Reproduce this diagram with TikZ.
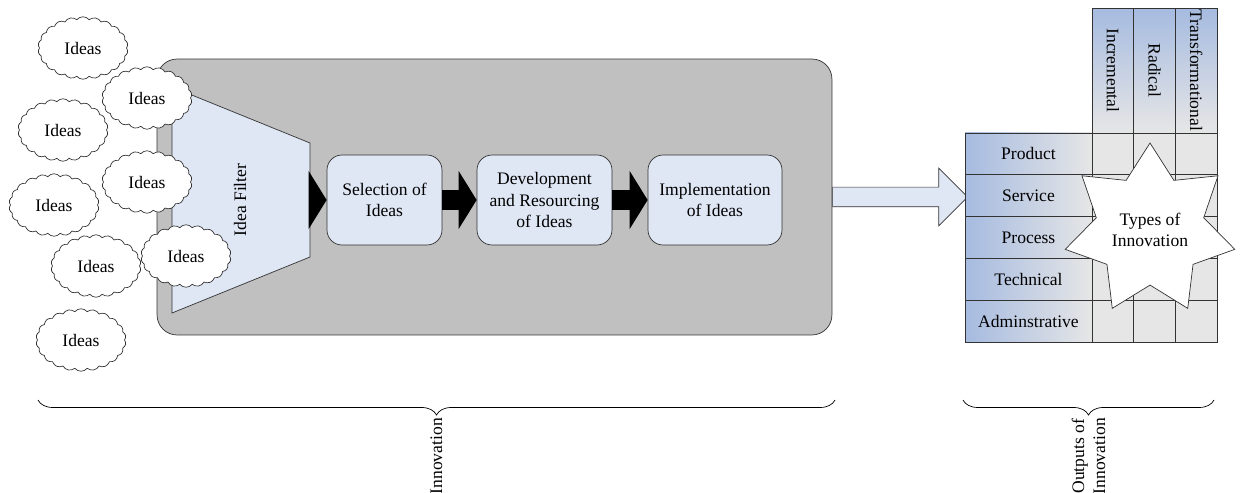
\documentclass[tikz,border=0pt]{standalone}
\usepackage{fontspec}
\setmainfont{Liberation Serif}
\usetikzlibrary{shapes.geometric,shapes.symbols,shapes.arrows,arrows.meta,decorations.pathreplacing}
\definecolor{boxgray}{HTML}{C0C0C0}
\definecolor{paleblue}{HTML}{DFE6F4}
\definecolor{cellblue}{HTML}{A6BBE0}
\definecolor{cellgray}{HTML}{E6E6E6}
\begin{document}
\begin{tikzpicture}[x=0.02cm,y=-0.02cm,>=latex,font=\fontsize{10}{12}\selectfont]
\tikzset{idea/.style={cloud,cloud puffs=22,cloud puff arc=100,cloud ignores aspect,draw=black!80,fill=white,minimum width=1.8cm,minimum height=1.25cm,inner sep=0pt}}
\tikzset{stage/.style={draw=black!80,rounded corners=0.3cm,fill=paleblue,minimum height=1.8cm,align=center,inner sep=2pt}}
\tikzset{blk/.style={line width=0.4cm,-{Triangle[length=0.36cm,width=1.16cm,line width=0pt]}}}
\tikzset{rowcell/.style={draw=black!80,left color=cellblue,right color=cellgray,minimum width=2.54cm,minimum height=0.836cm,outer sep=0pt,inner sep=0pt}}
\tikzset{gridcell/.style={draw=black!80,fill=cellgray,minimum width=0.834cm,minimum height=0.836cm,outer sep=0pt}}
\tikzset{headcell/.style={draw=black!80,top color=cellblue,bottom color=cellgray,minimum width=0.834cm,minimum height=2.5cm,outer sep=0pt}}
\tikzset{brc/.style={decorate,decoration={brace,mirror,amplitude=0.3cm},thin}}
\useasboundingbox (0,0) rectangle (1242,493);
% innovation process
\node[draw=black!80,fill=boxgray,rounded corners=0.4cm,minimum width=13.5cm,minimum height=5.52cm] (box) at (494.5,197) {};
\draw[draw=black!80,fill=paleblue] (172,87) -- (310,143) -- (310,257) -- (172,313) -- cycle;
\node[rotate=90] (filter) at (240,200) {Idea Filter};
\coordinate (fout) at (310,200);
\node[stage,minimum width=2.3cm] (sel) at (384.5,200) {Selection of\\Ideas};
\node[stage,minimum width=2.7cm] (dev) at (544.5,200) {Development\\and Resourcing\\of Ideas};
\node[stage,minimum width=2.68cm] (impl) at (715,200) {Implementation\\of Ideas};
\draw[blk] (fout) -- (sel.west);
\draw[blk] (sel.east) -- (dev.west);
\draw[blk] (dev.east) -- (impl.west);
\foreach \cx/\cy [count=\k] in {83/48,147/98,63/130,147/182,54/205,96/266,186/256,81/340}
\node[idea] (idea\k) at (\cx,\cy) {Ideas};
\node[single arrow,draw=black!80,fill=paleblue,minimum height=2.7cm,inner sep=0.19cm,single arrow head extend=0.38cm,anchor=tail] (out) at (box.east) {};
% outputs table
\foreach \name [count=\i from 0] in {Product,Service,Process,Technical,Adminstrative}
\node[rowcell,anchor=north west] (row\i) at (965,{133+41.8*\i}) {\name};
\foreach \r in {0,...,4}
\foreach \c in {0,1,2}
\node[gridcell,anchor=north west] (cell\r\c) at ({1092+41.7*\c},{133+41.8*\r}) {};
\foreach \t [count=\c from 0] in {Incremental,Radical,Transformational}{
\node[headcell,anchor=south west] (head\c) at ({1092+41.7*\c},133) {};
\node[rotate=-90] (htext\c) at (head\c.center) {\t};
}
\node[star,star points=7,star point ratio=1.58,minimum size=3.48cm,inner sep=0pt,draw=black!80,fill=white,align=center] (types) at (1150,230) {Types of\\Innovation};
% braces
\coordinate (innL) at (38,400);
\coordinate (innR) at (835,400);
\coordinate (outL) at (963,400);
\coordinate (outR) at (1214,400);
\draw[brc] (innL) -- (innR);
\draw[brc] (outL) -- (outR);
\node[rotate=90,anchor=east,inner sep=1pt] (innlabel) at (436.5,416) {Innovation};
\node[rotate=90,anchor=east,inner sep=1pt,align=center] (outlabel) at (1088.5,416) {Outputs of\\Innovation};
\end{tikzpicture}
\end{document}
